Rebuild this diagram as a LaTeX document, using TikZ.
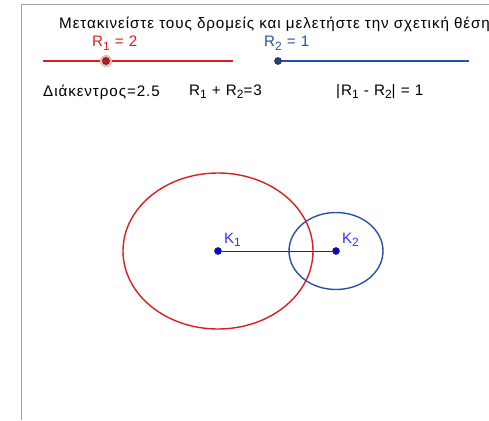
\documentclass[tikz,border=0pt]{standalone}
\usepackage{fontspec}
\setmainfont{Liberation Sans}[LetterSpace=6]
\definecolor{ggred}{RGB}{220,30,30}
\definecolor{ggblue}{RGB}{40,80,170}
\definecolor{ptblue}{RGB}{0,0,230}
\definecolor{lblblue}{RGB}{50,50,255}
\definecolor{framegray}{RGB}{160,160,160}
\newcommand{\lowsub}[1]{\raisebox{-3.5pt}{\fontsize{12}{13}\selectfont #1}}
\begin{document}
\begin{tikzpicture}[x=1pt,y=-1pt,
  txt/.style={inner sep=0pt,anchor=base west,font=\fontsize{15.2}{17}\selectfont},
  slider/.style={line width=1.6pt},
  pt/.style={circle,inner sep=0pt,minimum size=7pt,draw=black!80,line width=0.6pt},
  klabel/.style={inner sep=0pt,anchor=base west,text=lblblue,font=\fontsize{15}{17}\selectfont}]
\useasboundingbox (0,0) rectangle (489,420);
\begin{scope}
\clip (0,0) rectangle (489,420);
\draw[framegray,line width=1pt] (21,420) -- (21,5) -- (489,5);
\node[txt] (title) at (59,29) {Μετακινείστε τους δρομείς και μελετήστε την σχετική θέση};
\end{scope}
% sliders
\node[txt,text=ggred] (r1lab) at (92,47) {R\lowsub{1} = 2};
\coordinate (s1a) at (43,61);
\coordinate (s1b) at (233,61);
\draw[slider,ggred] (s1a) -- (s1b);
\node[circle,inner sep=0pt,minimum size=12pt,fill=ggred!35] (s1h) at (106,61) {};
\node[pt,fill=ggred!85!black] (s1p) at (106,61) {};
\node[txt,text=ggblue] (r2lab) at (264,47) {R\lowsub{2} = 1};
\coordinate (s2a) at (278,61);
\coordinate (s2b) at (469,61);
\draw[slider,ggblue] (s2a) -- (s2b);
\node[pt,fill=ggblue!80!black] (s2p) at (278,61) {};
% info row
\node[txt] (dk) at (43,96) {Διάκεντρος=2.5};
\node[txt] (sum) at (189,95) {R\lowsub{1} + R\lowsub{2}=3};
\node[txt] (diff) at (336,95) {|R\lowsub{1} - R\lowsub{2}| = 1};
% circles
\coordinate (c1) at (218,251);
\coordinate (c2) at (336,251);
\draw[ggred,line width=1.4pt] (c1) ellipse [x radius=95, y radius=78];
\draw[ggblue,line width=1.4pt] (c2) ellipse [x radius=47, y radius=38.5];
\node[pt,fill=ptblue] (k1) at (c1) {};
\node[pt,fill=ptblue] (k2) at (c2) {};
\draw[black!80,line width=0.8pt] (k1) -- (k2);
\node[klabel] (k1l) at (224,243) {K\lowsub{1}};
\node[klabel] (k2l) at (342,243) {K\lowsub{2}};
\end{tikzpicture}
\end{document}
